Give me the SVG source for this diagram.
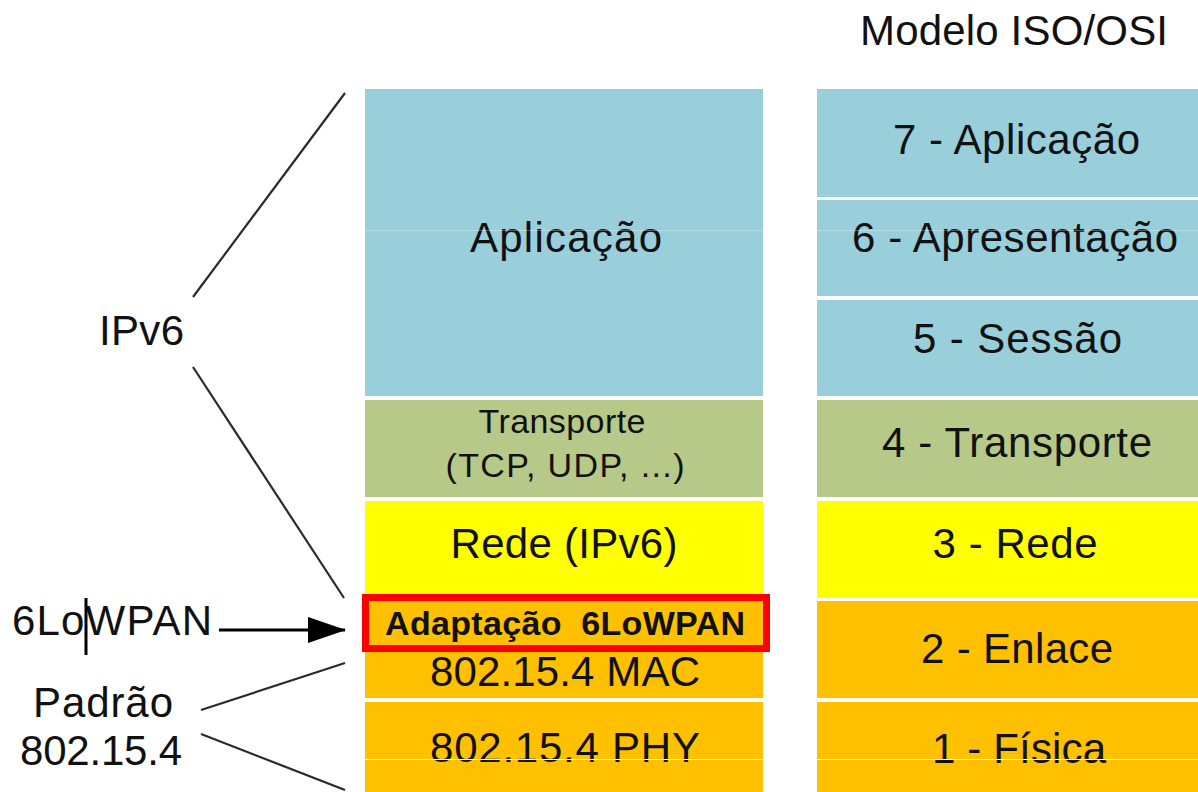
<svg xmlns="http://www.w3.org/2000/svg" width="1198" height="792" viewBox="0 0 1198 792">
<style>
text{font-family:"Liberation Sans",Arial,sans-serif;fill:#111;text-anchor:middle}
.big{font-size:42px}
.mid{font-size:34px}
.lbl{font-size:42px;text-anchor:start}
.blue{fill:#99CEDB}
.green{fill:#B7C988}
.yellow{fill:#FFFF00}
.orange{fill:#FFC000}
.conn{stroke:#2a2a2a;stroke-width:2.2;fill:none}
</style>
<defs>
<marker id="arrow" markerUnits="userSpaceOnUse" markerWidth="38" markerHeight="26" refX="37" refY="13" orient="auto">
<path d="M0,0 L38,13 L0,26 Z" fill="#000"/>
</marker>
</defs>
<rect width="1198" height="792" fill="#fff"/>
<text x="1014" y="45" class="big" textLength="308" lengthAdjust="spacing">Modelo ISO/OSI</text>
<g id="stack-left">
<g id="n-aplicacao"><rect x="365" y="89" width="398" height="307" class="blue"/><text x="566" y="252" class="big" textLength="192" lengthAdjust="spacing">Aplicação</text></g>
<g id="n-transporte"><rect x="365" y="400" width="398" height="97" class="green"/><text x="562" y="433" class="mid" textLength="167" lengthAdjust="spacing">Transporte</text><text x="565" y="477" class="mid" textLength="239" lengthAdjust="spacing">(TCP, UDP, ...)</text></g>
<g id="n-rede"><rect x="365" y="501" width="398" height="97" class="yellow"/><text x="564" y="558" class="big" textLength="227" lengthAdjust="spacing">Rede (IPv6)</text></g>
<g id="n-mac"><rect x="365" y="601" width="398" height="97" class="orange"/><text x="565" y="686" class="big" textLength="270" lengthAdjust="spacing">802.15.4 MAC</text></g>
<g id="n-adapt"><rect x="365.5" y="597.5" width="401" height="51" fill="#FFC000" stroke="#FF0000" stroke-width="7"/><text x="565" y="635" font-size="34" font-weight="bold" textLength="360" lengthAdjust="spacing">Adaptação&#160; 6LoWPAN</text></g>
<g id="n-phy"><rect x="365" y="702" width="398" height="90" class="orange"/><text x="565" y="762" class="big" textLength="270" lengthAdjust="spacing">802.15.4 PHY</text></g>
</g>
<g id="stack-osi">
<g id="n-osi7"><rect x="817" y="89" width="381" height="108" class="blue"/><text x="1016.5" y="154" class="big" textLength="247" lengthAdjust="spacing">7 - Aplicação</text></g>
<g id="n-osi6"><rect x="817" y="200" width="381" height="96" class="blue"/><text x="1015" y="252" class="big" textLength="326" lengthAdjust="spacing">6 - Apresentação</text></g>
<g id="n-osi5"><rect x="817" y="300" width="381" height="96" class="blue"/><text x="1017.5" y="353" class="big" textLength="209" lengthAdjust="spacing">5 - Sessão</text></g>
<g id="n-osi4"><rect x="817" y="400" width="381" height="97" class="green"/><text x="1017" y="457" class="big" textLength="270" lengthAdjust="spacing">4 - Transporte</text></g>
<g id="n-osi3"><rect x="817" y="501" width="381" height="97" class="yellow"/><text x="1015" y="558" class="big" textLength="165" lengthAdjust="spacing">3 - Rede</text></g>
<g id="n-osi2"><rect x="817" y="601" width="381" height="97" class="orange"/><text x="1017" y="663" class="big" textLength="192" lengthAdjust="spacing">2 - Enlace</text></g>
<g id="n-osi1"><rect x="817" y="702" width="381" height="90" class="orange"/><text x="1019" y="763" class="big" textLength="174" lengthAdjust="spacing">1 - Física</text></g>
</g>
<g id="artifacts">
<line x1="365" y1="230.5" x2="1198" y2="230.5" stroke="#fff" stroke-opacity="0.3" stroke-width="1"/>
<line x1="365" y1="759.5" x2="1198" y2="759.5" stroke="#fff" stroke-width="1"/>
</g>
<g id="labels">
<g id="n-ipv6"><text x="99" y="345" class="lbl" textLength="85" lengthAdjust="spacing">IPv6</text></g>
<g id="n-6lowpan"><text x="12" y="635" class="lbl" textLength="200" lengthAdjust="spacing">6LoWPAN</text><line x1="86" y1="598" x2="86" y2="655" stroke="#000" stroke-width="3"/></g>
<g id="n-padrao"><text x="103" y="717" class="big" textLength="140" lengthAdjust="spacing">Padrão</text><text x="101" y="765" class="big" textLength="162" lengthAdjust="spacing">802.15.4</text></g>
</g>
<g id="connectors">
<line class="conn" x1="193" y1="297" x2="345" y2="93"/>
<line class="conn" x1="193" y1="367" x2="344" y2="598"/>
<line class="conn" x1="201" y1="710" x2="345" y2="663"/>
<line class="conn" x1="201" y1="734" x2="345" y2="790"/>
<line x1="219" y1="630" x2="345" y2="630" stroke="#000" stroke-width="3" marker-end="url(#arrow)"/>
</g>
</svg>
